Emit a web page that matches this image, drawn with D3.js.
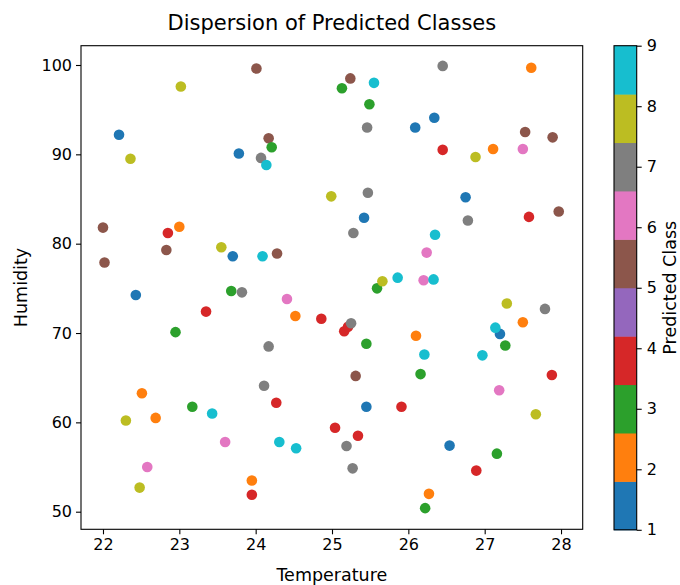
<!DOCTYPE html>
<html>
<head>
<meta charset="utf-8">
<script src="https://cdn.jsdelivr.net/npm/d3@7"></script>
<style>
  html, body { margin: 0; padding: 0; background: #fff; }
  svg { display: block; font-family: "DejaVu Sans", sans-serif; }
</style>
</head>
<body>
<svg id="chart" width="680" height="585"></svg>
<script>
// ---- data ----
const temperature = [
  24.01, 23.02, 25.13, 22.21, 22.36, 24.17, 24.21, 23.78, 24.07, 24.14,
  24.99, 22.00, 23.00, 22.85, 22.83, 23.55, 23.70, 24.09, 24.28, 22.02,
  26.45, 27.61, 25.24, 25.55, 25.49, 25.46, 26.09, 26.34, 27.53, 27.89,
  26.45, 26.88, 27.11, 27.50, 25.47, 26.75, 25.42, 25.28, 27.58, 27.97,
  26.78, 26.35, 26.24, 25.59, 25.86, 26.20, 26.33, 25.66, 22.43, 23.68,
  23.82, 24.41, 23.35, 24.52, 24.86, 22.95, 24.17, 24.11, 24.27, 22.51,
  23.17, 23.43, 22.30, 22.69, 25.04, 23.60, 24.31, 24.53, 22.58, 22.48,
  23.95, 23.95, 27.29, 27.79, 27.50, 27.20, 27.14, 27.27, 25.16, 25.21,
  25.25, 25.45, 26.10, 26.21, 26.97, 27.88, 26.16, 25.31, 27.19, 25.45,
  25.91, 27.67, 25.34, 25.19, 25.27, 26.54, 27.16, 26.89, 26.27, 26.22
];
const humidity = [
  99.6, 97.6, 97.4, 92.2, 89.5, 91.8, 90.8, 90.1, 89.6, 88.8,
  85.3, 81.8, 81.9, 81.2, 79.3, 79.6, 78.6, 78.6, 78.9, 77.9,
  99.9, 99.7, 98.5, 98.0, 95.6, 93.0, 93.0, 94.1, 92.5, 91.9,
  90.5, 89.7, 90.6, 90.6, 85.7, 85.2, 82.9, 81.2, 83.0, 83.6,
  82.6, 81.0, 79.0, 75.0, 76.2, 75.9, 76.0, 75.8, 74.25, 74.7,
  74.55, 73.8, 72.4, 71.9, 71.6, 70.1, 68.5, 64.1, 62.2, 63.25,
  61.75, 61.0, 60.2, 60.5, 59.4, 57.8, 57.8, 57.1, 55.0, 52.7,
  53.5, 51.9, 73.3, 72.7, 71.2, 69.9, 70.6, 68.6, 70.2, 70.7,
  71.1, 68.8, 69.7, 67.6, 67.5, 65.3, 65.4, 65.2, 63.6, 61.75,
  61.75, 60.9, 58.5, 57.35, 54.85, 57.4, 56.5, 54.6, 52.0, 50.4
];
const predictedClass = [
  5, 8, 3, 1, 8, 5, 3, 1, 7, 9,
  8, 5, 2, 4, 5, 8, 1, 9, 5, 5,
  7, 2, 5, 9, 3, 7, 1, 1, 5, 5,
  4, 8, 2, 6, 7, 1, 1, 7, 4, 5,
  7, 9, 6, 3, 9, 6, 9, 8, 1, 3,
  7, 6, 4, 2, 4, 3, 7, 7, 4, 2,
  3, 9, 8, 2, 4, 6, 9, 9, 6, 8,
  2, 4, 8, 7, 2, 1, 9, 3, 4, 4,
  7, 3, 2, 9, 9, 4, 3, 5, 6, 1,
  4, 8, 4, 7, 7, 1, 3, 4, 2, 3
];
const xTicks = [22, 23, 24, 25, 26, 27, 28];
const yTicks = [50, 60, 70, 80, 90, 100];
const cbarTicks = [1, 2, 3, 4, 5, 6, 7, 8, 9];
const tab10 = ["#1f77b4", "#ff7f0e", "#2ca02c", "#d62728", "#9467bd",
               "#8c564b", "#e377c2", "#7f7f7f", "#bcbd22", "#17becf"];

// ---- layout ----
const svg = d3.select("#chart");
const plot = { left: 81, right: 582.7, top: 45.7, bottom: 529.3 };
const cbar = { left: 614, right: 636.7, top: 45.7, bottom: 529.8 };

const x = d3.scaleLinear().domain([21.712, 28.284]).range([plot.left, plot.right]);
const y = d3.scaleLinear().domain([48.03, 102.16]).range([plot.bottom, plot.top]);

// color mapping like matplotlib tab10 with vmin=1, vmax=9
const cmin = 1, cmax = 9;
function colorOf(v) {
  let idx = Math.floor((v - cmin) / (cmax - cmin) * 10);
  idx = Math.max(0, Math.min(9, idx));
  return tab10[idx];
}

const points = temperature.map((t, i) => ({ t, h: humidity[i], c: predictedClass[i] }));

// points
svg.append("g")
  .selectAll("circle")
  .data(points)
  .join("circle")
  .attr("cx", d => x(d.t))
  .attr("cy", d => y(d.h))
  .attr("r", 5.3)
  .attr("fill", d => colorOf(d.c));

// frame
svg.append("rect")
  .attr("x", plot.left).attr("y", plot.top)
  .attr("width", plot.right - plot.left).attr("height", plot.bottom - plot.top)
  .attr("fill", "none").attr("stroke", "#000").attr("stroke-width", 1.1);

// axes
const tickFont = 16;
const labelFont = 17.5;
const xAxis = svg.append("g")
  .attr("transform", `translate(0,${plot.bottom})`)
  .call(d3.axisBottom(x).tickValues(xTicks).tickSize(5).tickPadding(4).tickFormat(d3.format("d")));
const yAxis = svg.append("g")
  .attr("transform", `translate(${plot.left},0)`)
  .call(d3.axisLeft(y).tickValues(yTicks).tickSize(5).tickPadding(4).tickFormat(d3.format("d")));
[xAxis, yAxis].forEach(a => {
  a.select(".domain").remove();
  a.selectAll(".tick line").attr("stroke", "#000").attr("stroke-width", 1.1);
  a.selectAll(".tick text").attr("fill", "#000")
    .style("font-family", "DejaVu Sans, sans-serif").style("font-size", tickFont + "px");
});

// colorbar
const cy = d3.scaleLinear().domain([cmin, cmax]).range([cbar.bottom, cbar.top]);
const segs = d3.range(10).map(i => ({ lo: cmin + i * 0.8, hi: cmin + (i + 1) * 0.8, col: tab10[i] }));
svg.append("g").selectAll("rect")
  .data(segs)
  .join("rect")
  .attr("x", cbar.left)
  .attr("y", d => cy(d.hi))
  .attr("width", cbar.right - cbar.left)
  .attr("height", d => cy(d.lo) - cy(d.hi) + 0.5)
  .attr("fill", d => d.col);
svg.append("rect")
  .attr("x", cbar.left).attr("y", cbar.top)
  .attr("width", cbar.right - cbar.left).attr("height", cbar.bottom - cbar.top)
  .attr("fill", "none").attr("stroke", "#000").attr("stroke-width", 1.1);
const cAxis = svg.append("g")
  .attr("transform", `translate(${cbar.right},0)`)
  .call(d3.axisRight(cy).tickValues(cbarTicks).tickSize(5).tickPadding(5).tickFormat(d3.format("d")));
cAxis.select(".domain").remove();
cAxis.selectAll(".tick line").attr("stroke", "#000").attr("stroke-width", 1.1);
cAxis.selectAll(".tick text").attr("fill", "#000")
  .style("font-family", "DejaVu Sans, sans-serif").style("font-size", tickFont + "px");

// labels
const midX = (plot.left + plot.right) / 2;
const midY = (plot.top + plot.bottom) / 2;
svg.append("text")
  .attr("x", midX).attr("y", 30)
  .attr("text-anchor", "middle")
  .style("font-size", "21px")
  .text("Dispersion of Predicted Classes");
svg.append("text")
  .attr("x", midX).attr("y", 581)
  .attr("text-anchor", "middle")
  .style("font-size", labelFont + "px")
  .text("Temperature");
svg.append("text")
  .attr("transform", `translate(27,${midY}) rotate(-90)`)
  .attr("text-anchor", "middle")
  .style("font-size", labelFont + "px")
  .text("Humidity");
svg.append("text")
  .attr("transform", `translate(676,${(cbar.top + cbar.bottom) / 2}) rotate(-90)`)
  .attr("text-anchor", "middle")
  .style("font-size", labelFont + "px")
  .text("Predicted Class");
</script>
</body>
</html>
